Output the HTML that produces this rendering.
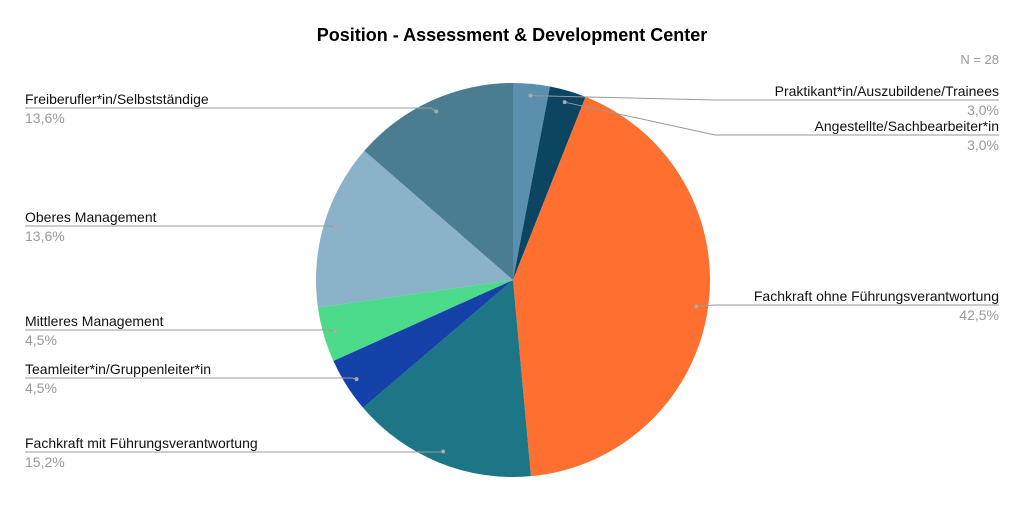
<!DOCTYPE html>
<html><head><meta charset="utf-8"><style>
body{margin:0;background:#fff;font-family:"Liberation Sans",sans-serif}
svg text{font-family:"Liberation Sans",sans-serif}
</style></head><body>
<svg width="1024" height="501">
<text x="512" y="41" text-anchor="middle" font-size="18" font-weight="bold" fill="#000">Position - Assessment &amp; Development Center</text>
<text x="999" y="64" text-anchor="end" font-size="13" fill="#999">N = 28</text>
<g id="slices"></g><g id="labels"></g>
</svg>
<script>
const categories=["Praktikant*in/Auszubildene/Trainees","Angestellte/Sachbearbeiter*in","Fachkraft ohne Führungsverantwortung","Fachkraft mit Führungsverantwortung","Teamleiter*in/Gruppenleiter*in","Mittleres Management","Oberes Management","Freiberufler*in/Selbstständige"];
const values=[3.0,3.0,42.5,15.2,4.5,4.5,13.6,13.6];
const valueLabels=["3,0%","3,0%","42,5%","15,2%","4,5%","4,5%","13,6%","13,6%"];
const colors=["#5a90ae","#0c4562","#ff6f30","#1c7686","#1442a8","#4cdb8a","#8ab2c8","#4b7d92"];
const side=["r","r","r","l","l","l","l","l"];
const labelY=[100,135,305,452,378,330,226,108];
const NS="http://www.w3.org/2000/svg";
const cx=513,cy=280,R=197;
const total=values.reduce((a,b)=>a+b,0);
const gS=document.getElementById('slices'),gL=document.getElementById('labels');
function pt(a,r){return [cx+r*Math.sin(a),cy-r*Math.cos(a)];}
let acc=0;
values.forEach((v,i)=>{
 const a0=acc/total*2*Math.PI;acc+=v;const a1=acc/total*2*Math.PI;
 const p0=pt(a0,R),p1=pt(a1,R);
 const p=document.createElementNS(NS,'path');
 p.setAttribute('d',`M${cx},${cy}L${p0[0]},${p0[1]}A${R},${R} 0 ${a1-a0>Math.PI?1:0} 1 ${p1[0]},${p1[1]}Z`);
 p.setAttribute('fill',colors[i]);
 
 
 gS.appendChild(p);
 const am=(a0+a1)/2,d=pt(am,R*0.94),ly=labelY[i];
 const l=document.createElementNS(NS,'polyline');
 const pts=side[i]=="r"?`${d[0]},${d[1]} 715,${ly} 999,${ly}`:`${d[0]},${d[1]} ${d[0]-5},${ly} 25,${ly}`;
 l.setAttribute('points',pts);l.setAttribute('fill','none');l.setAttribute('stroke','#999');l.setAttribute('stroke-width','1');
 
 
 gL.appendChild(l);
 const c=document.createElementNS(NS,'circle');c.setAttribute('cx',d[0]);c.setAttribute('cy',d[1]);c.setAttribute('r',2);c.setAttribute('fill','#aaa');
 
 
 gL.appendChild(c);
 const x=side[i]=="r"?999:25,anc=side[i]=="r"?"end":"start";
 const t=document.createElementNS(NS,'text');t.setAttribute('x',x);t.setAttribute('y',ly-4);t.setAttribute('text-anchor',anc);t.setAttribute('font-size','14');t.setAttribute('fill','#111');t.textContent=categories[i];
 
 
 gL.appendChild(t);
 const t2=document.createElementNS(NS,'text');t2.setAttribute('x',x);t2.setAttribute('y',ly+15);t2.setAttribute('text-anchor',anc);t2.setAttribute('font-size','14');t2.setAttribute('fill','#999');t2.textContent=valueLabels[i];
 
 
 gL.appendChild(t2);
});
</script>
</body></html>
